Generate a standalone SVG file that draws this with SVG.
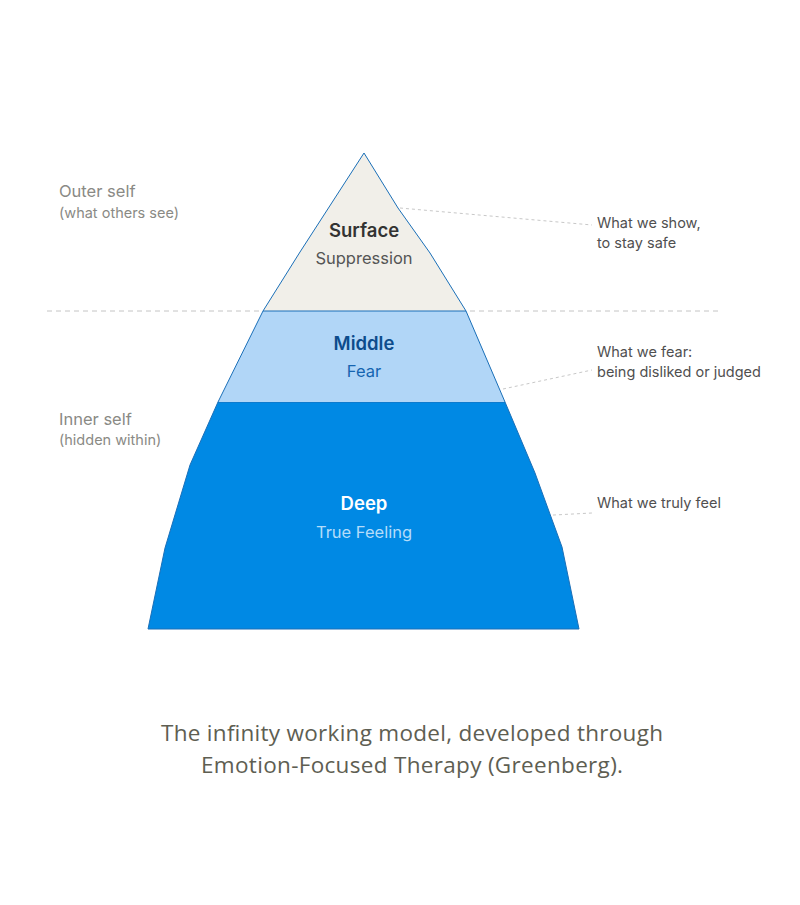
<svg xmlns="http://www.w3.org/2000/svg" width="800" height="905" viewBox="0 0 800 905">
<style>
text{font-family:Inter,"Open Sans","Liberation Sans",sans-serif}
.side{font-size:16.5px;fill:#8a8a85}
.sub{font-size:14.5px;fill:#8a8a85}
.note{font-size:14.5px;fill:#505050}
.lead{stroke:#c8c8c8;stroke-width:1;stroke-dasharray:3 3;fill:none}
.t{font-size:18.5px;font-weight:600;text-anchor:middle}
.s{font-size:16.5px;text-anchor:middle}
</style>
<rect width="800" height="905" fill="#fff"/>
<g id="connectors">
<line x1="47" y1="311" x2="722" y2="311" stroke="#c4c4c4" stroke-dasharray="5 4"/>
<path class="lead" d="M400 208 L592 225"/>
<path class="lead" d="M503 389 L592 370"/>
<path class="lead" d="M535 516 L592 513"/>
</g>
<g id="deep">
<path d="M218 402 L505 402 L535 473 L562 547 L579 629 L148 629 L165 548 L190 465 Z" fill="#0089e4" stroke="#1a6fb8" stroke-width="1"/>
<text class="t" x="364" y="510" fill="#fff">Deep</text>
<text class="s" x="364" y="538" fill="#b4dcfa">True Feeling</text>
</g>
<g id="middle">
<path d="M263 311 L466 311 L505 402 L218 402 Z" fill="#b1d6f7"/>
<path d="M263 311 L218 402 M466 311 L505 402" stroke="#1a6fb8" fill="none"/>
<text class="t" x="364" y="350" fill="#0d4c8c">Middle</text>
<text class="s" x="364" y="377" fill="#1565b0">Fear</text>
</g>
<g id="surface">
<path d="M364 153 L398 208 L430 253 L466 311 L263 311 L300 252 Z" fill="#f1efe9" stroke="#1a6fb8" stroke-width="1"/>
<text class="t" x="364" y="237" fill="#333">Surface</text>
<text class="s" x="364" y="264" fill="#555">Suppression</text>
</g>
<g id="outer">
<text class="side" x="59" y="197">Outer self</text>
<text class="sub" x="59" y="218">(what others see)</text>
</g>
<g id="inner">
<text class="side" x="59" y="425">Inner self</text>
<text class="sub" x="59" y="445">(hidden within)</text>
</g>
<g id="notes">
<text class="note" x="597" y="228">What we show,</text>
<text class="note" x="597" y="248">to stay safe</text>
<text class="note" x="597" y="357">What we fear:</text>
<text class="note" x="597" y="377">being disliked or judged</text>
<text class="note" x="597" y="508">What we truly feel</text>
</g>
<g id="caption" font-size="22.5" fill="#5e5e52" text-anchor="middle">
<text x="412" y="741" style="font-family:'Open Sans',sans-serif" textLength="502">The infinity working model, developed through</text>
<text x="412" y="773" style="font-family:'Open Sans',sans-serif" textLength="422">Emotion-Focused Therapy (Greenberg).</text>
</g>
</svg>
